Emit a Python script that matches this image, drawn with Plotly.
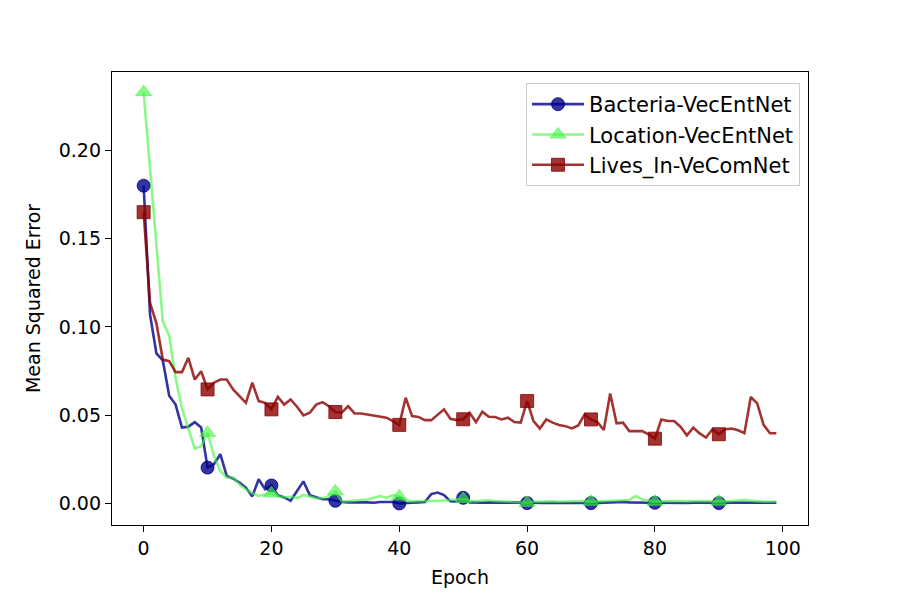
import plotly.graph_objects as go

epochs = list(range(100))

bacteria = [
    0.180, 0.107, 0.085, 0.081, 0.061, 0.056, 0.043, 0.0435, 0.046, 0.043,
    0.0203, 0.0222, 0.0279, 0.0156, 0.0141, 0.0119, 0.009, 0.004, 0.0137, 0.0081,
    0.0102, 0.0047, 0.0034, 0.0015, 0.0071, 0.0125, 0.0047, 0.0034, 0.0024, 0.0024,
    0.0015, 0.0008, 0.0006, 0.0008, 0.0006, 0.0006, 0.0004, 0.0008, 0.0006, 0.0008,
    0.0000, 0.0004, 0.0004, 0.0006, 0.0008, 0.0053, 0.0062, 0.0048, 0.0012, 0.0010,
    0.0032, 0.0006, 0.0004, 0.0004, 0.0006, 0.0004, 0.0005, 0.0004, 0.0006, 0.0004,
    0.0002, 0.0004, 0.0003, 0.0005, 0.0004, 0.0003, 0.0004, 0.0005, 0.0004, 0.0003,
    0.0002, 0.0004, 0.0005, 0.0008, 0.0010, 0.0009, 0.0006, 0.0004, 0.0005, 0.0004,
    0.0004, 0.0003, 0.0004, 0.0005, 0.0004, 0.0003, 0.0005, 0.0004, 0.0003, 0.0004,
    0.0002, 0.0004, 0.0005, 0.0004, 0.0003, 0.0004, 0.0005, 0.0004, 0.0004, 0.0005,
]

location = [
    0.233, 0.189, 0.146, 0.103, 0.095, 0.071, 0.054, 0.042, 0.031, 0.0325,
    0.040, 0.027, 0.0184, 0.0147, 0.0147, 0.0109, 0.008, 0.0058, 0.0043, 0.005,
    0.0058, 0.004, 0.0035, 0.0038, 0.003, 0.0048, 0.004, 0.003, 0.003, 0.004,
    0.0068, 0.0012, 0.0012, 0.0018, 0.002, 0.0022, 0.003, 0.0042, 0.0032, 0.0048,
    0.004, 0.0015, 0.0012, 0.0014, 0.0016, 0.0015, 0.0014, 0.0016, 0.0018, 0.002,
    0.0025, 0.0015, 0.0012, 0.0016, 0.0018, 0.0014, 0.0012, 0.0014, 0.0012, 0.0010,
    0.0004, 0.0010, 0.0012, 0.0014, 0.0012, 0.0010, 0.0012, 0.0014, 0.0016, 0.0014,
    0.0010, 0.0012, 0.0014, 0.0012, 0.0014, 0.0016, 0.0020, 0.0042, 0.0022, 0.0016,
    0.0010, 0.0012, 0.0014, 0.0012, 0.0014, 0.0012, 0.0014, 0.0012, 0.0014, 0.0012,
    0.0010, 0.0012, 0.0014, 0.0016, 0.0020, 0.0016, 0.0012, 0.0010, 0.0010, 0.0010,
]

lives_in = [
    0.165, 0.1136, 0.102, 0.0815, 0.0806, 0.0744, 0.0744, 0.0825, 0.0702, 0.0749,
    0.0646, 0.0684, 0.0702, 0.0702, 0.0646, 0.0608, 0.057, 0.0684, 0.058, 0.057,
    0.0533, 0.0604, 0.056, 0.0589, 0.0548, 0.0499, 0.0514, 0.056, 0.0574, 0.0551,
    0.0518, 0.0514, 0.0551, 0.051, 0.051, 0.0504, 0.0499, 0.0495, 0.0486, 0.0467,
    0.0445, 0.0599, 0.0495, 0.049, 0.0472, 0.0472, 0.0504, 0.0533, 0.048, 0.0472,
    0.0477, 0.0514, 0.0461, 0.052, 0.0491, 0.049, 0.0476, 0.0486, 0.0461, 0.0458,
    0.058, 0.0467, 0.0424, 0.0476, 0.0458, 0.0444, 0.0438, 0.0425, 0.0442, 0.0504,
    0.0476, 0.0461, 0.0416, 0.0623, 0.0454, 0.0458, 0.041, 0.041, 0.041, 0.0392,
    0.0367, 0.0476, 0.0467, 0.0467, 0.0435, 0.0386, 0.0429, 0.0397, 0.0373, 0.042,
    0.0392, 0.042, 0.0424, 0.0415, 0.0398, 0.0603, 0.0567, 0.0445, 0.0398, 0.0398,
]

series_names = ["Bacteria-VecEntNet", "Location-VecEntNet", "Lives_In-VeComNet"]
x_ticks = [0, 20, 40, 60, 80, 100]
y_ticks = [0.00, 0.05, 0.10, 0.15, 0.20]

FONT = "DejaVu Sans"
FS = 19
LFS = 21

styles = [
    dict(color="rgba(0,0,139,0.8)", symbol="circle", size=13),
    dict(color="rgba(60,245,60,0.6)", symbol="triangle-up", size=14),
    dict(color="rgba(139,0,0,0.8)", symbol="square", size=13),
]

fig = go.Figure()
for name, vals, st in zip(series_names, [bacteria, location, lives_in], styles):
    grp = name
    fig.add_trace(go.Scatter(
        x=epochs, y=vals, mode="lines", showlegend=False, legendgroup=grp,
        line=dict(color=st["color"], width=2.6), hoverinfo="skip"))
    fig.add_trace(go.Scatter(
        x=epochs[::10], y=vals[::10], mode="markers", showlegend=False, legendgroup=grp,
        marker=dict(symbol=st["symbol"], size=st["size"], color=st["color"],
                    line=dict(color=st["color"], width=1))))
    fig.add_trace(go.Scatter(
        x=[None], y=[None], mode="lines+markers", name=name, legendgroup=grp,
        line=dict(color=st["color"], width=2.6),
        marker=dict(symbol=st["symbol"], size=st["size"], color=st["color"],
                    line=dict(color=st["color"], width=1))))

axis_common = dict(
    showline=True, linecolor="black", linewidth=1.3, mirror=True,
    ticks="outside", ticklen=6, tickwidth=1.2, tickcolor="black",
    showgrid=False, zeroline=False,
    tickfont=dict(family=FONT, size=FS, color="black"),
)

fig.update_layout(
    width=900, height=600,
    paper_bgcolor="white", plot_bgcolor="white",
    margin=dict(l=112, r=92, t=72, b=75),
    font=dict(family=FONT, size=FS, color="black"),
    xaxis=dict(range=[-4.95, 103.95], tickvals=x_ticks,
               title=dict(text="Epoch", font=dict(family=FONT, size=FS), standoff=12),
               **axis_common),
    yaxis=dict(range=[-0.0122, 0.2444], tickvals=y_ticks, tickformat=".2f",
               title=dict(text="Mean Squared Error", font=dict(family=FONT, size=FS), standoff=13),
               **axis_common),
    legend=dict(
        x=0.9885, y=0.9757, xanchor="right", yanchor="top",
        bgcolor="rgba(255,255,255,0.8)", bordercolor="#cccccc", borderwidth=1,
        font=dict(family=FONT, size=LFS, color="black"),
        itemwidth=52, tracegroupgap=0,
    ),
)

fig.write_html("out.html")
